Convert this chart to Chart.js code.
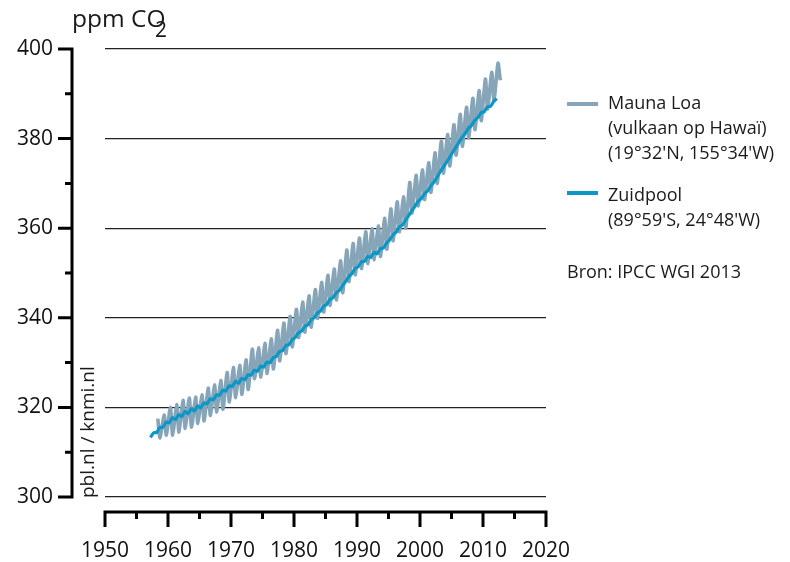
<!DOCTYPE html>
<html>
<head>
<meta charset="utf-8">
<script src="https://cdn.jsdelivr.net/npm/chart.js@4.4.1/dist/chart.umd.min.js"></script>
<style>
html, body { margin: 0; padding: 0; background: #fff; }
#wrap { position: relative; width: 790px; height: 562px; font-family: "Open Sans", sans-serif; color: #1a1a1a; }
#c { position: absolute; left: 0; top: 0; }
.t { position: absolute; white-space: nowrap; line-height: 1; }
.leg { position: absolute; left: 608px; font-size: 18px; line-height: 25px; white-space: nowrap; }
.swatch { position: absolute; left: 567px; width: 31px; height: 4px; }
</style>
</head>
<body>
<div id="wrap">
  <canvas id="c" width="790" height="562" style="width:790px;height:562px"></canvas>
  <div class="t" style="left:72px;top:6px;font-size:24.5px">ppm CO</div>
  <div class="t" style="left:155px;top:19px;font-size:21px">2</div>
  <div class="t" style="left:78px;top:498px;font-size:19px;transform-origin:0 0;transform:rotate(-90deg)">pbl.nl / knmi.nl</div>

  <div class="swatch" style="top:102px;background:#87a5b9"></div>
  <div class="leg" style="top:90px">Mauna Loa<br>(vulkaan op Hawaï)<br>(19°32'N, 155°34'W)</div>
  <div class="swatch" style="top:191px;background:#0a97c6"></div>
  <div class="leg" style="top:182px">Zuidpool<br>(89°59'S, 24°48'W)</div>
  <div class="leg" style="top:259px;left:567px">Bron: IPCC WGI 2013</div>
</div>

<script>
// Mauna Loa: seasonal maximum (May) and minimum (Sep/Oct) per year, ppm
const mlYears = [1958,1959,1960,1961,1962,1963,1964,1965,1966,1967,1968,1969,1970,1971,1972,1973,1974,1975,1976,1977,
  1978,1979,1980,1981,1982,1983,1984,1985,1986,1987,1988,1989,1990,1991,1992,1993,1994,1995,1996,1997,
  1998,1999,2000,2001,2002,2003,2004,2005,2006,2007,2008,2009,2010,2011,2012];
const mlMax = [317.5,318.3,320.0,320.6,321.6,322.1,322.3,322.8,324.3,325.0,326.0,327.8,328.9,329.4,330.6,333.0,333.3,334.3,335.3,337.2,
  338.8,340.3,341.9,343.5,344.9,346.3,347.9,349.5,350.9,352.7,355.1,356.6,357.8,359.2,359.9,360.5,362.2,364.3,365.9,367.0,
  370.2,371.8,373.0,374.6,376.8,379.4,380.9,383.1,385.4,387.0,389.0,390.7,393.3,394.8,396.8];
const mlMin = [313.2,313.8,313.8,314.5,315.3,315.6,316.4,317.0,318.2,319.0,319.6,321.2,322.2,322.9,324.0,326.4,326.8,327.6,328.6,330.4,
  332.0,333.5,335.6,336.8,337.9,339.9,341.3,342.8,344.0,345.6,348.1,349.6,351.0,352.1,353.0,353.7,355.3,357.2,359.2,360.0,
  363.4,365.0,366.4,368.0,370.0,372.3,373.9,376.3,378.3,380.2,382.0,384.0,386.6,388.5,393.0];

// Zuidpool: low (early in year) and high (late in year), ppm
const spYears = [1957,1958,1959,1960,1961,1962,1963,1964,1965,1966,1967,1968,1969,1970,1971,1972,1973,1974,1975,1976,
  1977,1978,1979,1980,1981,1982,1983,1984,1985,1986,1987,1988,1989,1990,1991,1992,1993,1994,1995,1996,
  1997,1998,1999,2000,2001,2002,2003,2004,2005,2006,2007,2008,2009,2010,2011,2012];
const spLow = [313.3,314.4,315.6,316.6,317.3,318.0,318.6,319.2,319.9,320.8,321.7,322.7,323.7,324.7,325.4,326.2,327.2,328.1,329.0,330.0,
  331.4,332.7,334.0,335.6,337.0,338.4,340.0,341.5,343.0,344.5,346.1,348.1,349.9,351.4,352.6,353.5,354.3,355.6,357.4,359.1,
  360.7,362.8,364.9,366.6,368.3,370.3,372.6,374.7,377.0,379.2,381.2,383.0,384.7,386.0,387.2,388.9];
const spHigh = [314.3,315.5,316.7,317.7,318.4,319.1,319.7,320.3,321.0,321.9,322.8,323.8,324.8,325.8,326.5,327.3,328.3,329.2,330.1,331.1,
  332.5,333.8,335.1,336.7,338.1,339.5,341.1,342.6,344.1,345.6,347.2,349.2,351.0,352.5,353.7,354.6,355.4,356.7,358.5,360.2,
  361.8,363.9,366.0,367.7,369.4,371.4,373.7,375.8,378.1,380.3,382.3,384.1,385.8,387.1,388.3];

const yTicks = [300, 320, 340, 360, 380, 400];
const xTicks = [1950, 1960, 1970, 1980, 1990, 2000, 2010, 2020];

const mlPoints = [];
mlYears.forEach(function (yr, i) {
    mlPoints.push({ x: yr + 0.38, y: mlMax[i] });
    mlPoints.push({ x: yr + 0.74, y: mlMin[i] });
});

const spPoints = [];
spYears.forEach(function (yr, i) {
    spPoints.push({ x: yr + 0.2, y: spLow[i] });
    if (spHigh[i] !== undefined) spPoints.push({ x: yr + 0.7, y: spHigh[i] });
});

// axes are drawn away from the plot area, like the original
const offsetAxes = {
    id: 'offsetAxes',
    afterDraw: function (chart) {
        const ctx = chart.ctx;
        const xs = chart.scales.x, ys = chart.scales.y;
        const ax = 72, ay = 512;
        ctx.save();
        ctx.strokeStyle = '#000';
        ctx.lineWidth = 3;
        ctx.beginPath();
        ctx.moveTo(ax, ys.getPixelForValue(300) + 1.5);
        ctx.lineTo(ax, ys.getPixelForValue(400) - 1.5);
        for (let v = 300; v <= 400; v += 10) {
            const py = ys.getPixelForValue(v);
            ctx.moveTo(yTicks.includes(v) ? 58 : 65, py);
            ctx.lineTo(ax, py);
        }
        ctx.moveTo(xs.getPixelForValue(1950) - 1.5, ay);
        ctx.lineTo(xs.getPixelForValue(2020) + 1.5, ay);
        for (let v = 1950; v <= 2020; v += 5) {
            const px = xs.getPixelForValue(v);
            ctx.moveTo(px, ay);
            ctx.lineTo(px, xTicks.includes(v) ? 527 : 519);
        }
        ctx.stroke();
        ctx.restore();
    }
};

const chart = new Chart(document.getElementById('c').getContext('2d'), {
    type: 'line',
    data: {
        datasets: [
            {
                label: 'Zuidpool',
                data: spPoints,
                borderColor: '#0a97c6',
                borderWidth: 3.2,
                pointRadius: 0,
                tension: 0.2,
                borderJoinStyle: 'round',
                order: 0
            },
            {
                label: 'Mauna Loa',
                data: mlPoints,
                borderColor: '#87a5b9',
                borderWidth: 3.6,
                pointRadius: 0,
                tension: 0.25,
                borderJoinStyle: 'round',
                order: 1
            }
        ]
    },
    options: {
        responsive: false,
        animation: false,
        layout: { padding: { top: 49, right: 244, left: 0, bottom: 0 } },
        plugins: { legend: { display: false }, tooltip: { enabled: false } },
        scales: {
            x: {
                type: 'linear',
                min: 1950,
                max: 2020,
                afterFit: function (s) { s.height = 65; },
                grid: { drawOnChartArea: false, drawTicks: true, tickLength: 39, tickColor: 'rgba(0,0,0,0)' },
                border: { display: false },
                ticks: {
                    stepSize: 10,
                    autoSkip: false,
                    maxRotation: 0,
                    padding: 2,
                    color: '#111',
                    font: { family: 'Open Sans', size: 21 },
                    callback: function (v) { return xTicks.includes(v) ? String(v) : ''; }
                }
            },
            y: {
                min: 300,
                max: 400,
                afterFit: function (s) { s.width = 105; },
                grid: {
                    drawTicks: true,
                    tickLength: 50,
                    tickColor: 'rgba(0,0,0,0)',
                    color: function (c) { return c.tick && yTicks.includes(c.tick.value) ? '#222' : 'rgba(0,0,0,0)'; },
                    lineWidth: 1.3
                },
                border: { display: false },
                ticks: {
                    stepSize: 20,
                    padding: 2,
                    color: '#111',
                    font: { family: 'Open Sans', size: 21 },
                    callback: function (v) { return String(v); }
                }
            }
        }
    },
    plugins: [offsetAxes]
});
</script>
</body>
</html>
